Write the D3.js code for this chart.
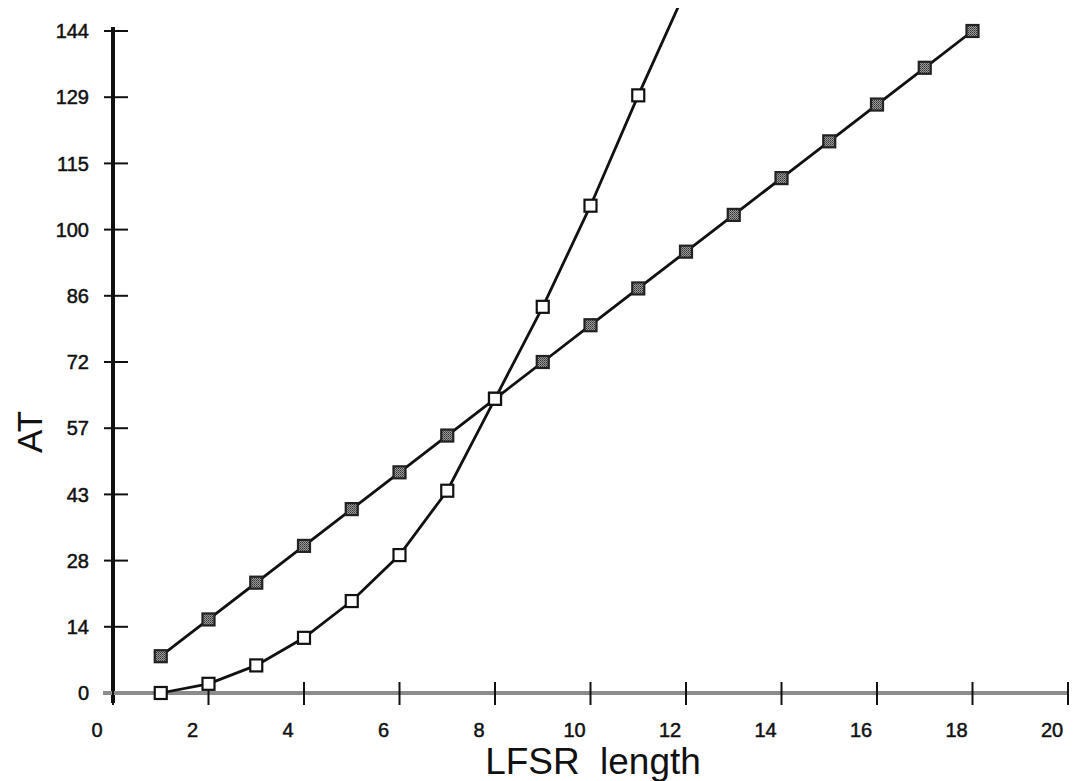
<!DOCTYPE html>
<html>
<head>
<meta charset="utf-8">
<script src="https://cdnjs.cloudflare.com/ajax/libs/d3/7.8.5/d3.min.js"></script>
<style>
  body { margin: 0; background: white; }
  text { font-family: "Liberation Sans", Arial, sans-serif; fill: #111; }
</style>
</head>
<body>
<div id="chart"></div>
<script>
// data
var lengths = [1, 2, 3, 4, 5, 6, 7, 8, 9, 10, 11, 12, 13, 14, 15, 16, 17, 18];
var filledValues = [8, 16, 24, 32, 40, 48, 56, 64, 72, 80, 88, 96, 104, 112, 120, 128, 136, 144];
var openLengths = [1, 2, 3, 4, 5, 6, 7, 8, 9, 10, 11, 12];
var openValues = [0, 2, 6, 12, 20, 30, 44, 64, 84, 106, 130, 153];
var xTicks = [0, 2, 4, 6, 8, 10, 12, 14, 16, 18, 20];
var yTicks = [0, 14.4, 28.8, 43.2, 57.6, 72, 86.4, 100.8, 115.2, 129.6, 144];
var yTickLabels = ["0", "14", "28", "43", "57", "72", "86", "100", "115", "129", "144"];

var visualize = function() {
  var width = 1073, height = 781;

  var svg = d3.select("#chart")
    .append("svg")
    .attr("width", width)
    .attr("height", height);

  var x = d3.scaleLinear()
    .domain([0, 20])
    .range([113, 1068]);

  var y = d3.scaleLinear()
    .domain([0, 144])
    .range([693, 31]);

  // dithered grey fill for the solid markers
  var defs = svg.append("defs");
  var pat = defs.append("pattern")
    .attr("id", "dots")
    .attr("width", 2)
    .attr("height", 2)
    .attr("patternUnits", "userSpaceOnUse");
  pat.append("rect").attr("width", 2).attr("height", 2).attr("fill", "#9a9a9a");
  pat.append("rect").attr("width", 1).attr("height", 1).attr("fill", "#333");
  pat.append("rect").attr("x", 1).attr("y", 1).attr("width", 1).attr("height", 1).attr("fill", "#555");

  defs.append("clipPath")
    .attr("id", "plotclip")
    .append("rect")
    .attr("x", 0)
    .attr("y", 8)
    .attr("width", width)
    .attr("height", height);

  //y axis
  svg.append("line")
    .attr("x1", x(0)).attr("x2", x(0))
    .attr("y1", 27).attr("y2", 703)
    .attr("stroke", "#111")
    .attr("stroke-width", 4);

  svg.selectAll(".ytick")
    .data(yTicks)
    .enter()
    .append("line")
    .attr("class", "ytick")
    .attr("x1", x(0) - 9)
    .attr("x2", x(0) + 15)
    .attr("y1", d => y(d))
    .attr("y2", d => y(d))
    .attr("stroke", "#111")
    .attr("stroke-width", 2);

  svg.selectAll(".ylabel")
    .data(yTicks)
    .enter()
    .append("text")
    .attr("class", "ylabel")
    .attr("x", 89)
    .attr("y", d => y(d))
    .attr("dy", "0.36em")
    .attr("text-anchor", "end")
    .style("font-size", "20px")
    .style("stroke", "#111")
    .style("stroke-width", 0.5)
    .text((d, i) => yTickLabels[i]);

  //x axis (grey, like the scan)
  svg.append("line")
    .attr("x1", x(0) - 10).attr("x2", x(20))
    .attr("y1", y(0)).attr("y2", y(0))
    .attr("stroke", "#8c8c8c")
    .attr("stroke-width", 4);

  svg.selectAll(".xtick")
    .data(xTicks)
    .enter()
    .append("line")
    .attr("class", "xtick")
    .attr("x1", d => x(d))
    .attr("x2", d => x(d))
    .attr("y1", y(0) - 11)
    .attr("y2", y(0) + 12)
    .attr("stroke", "#111")
    .attr("stroke-width", 2);

  svg.selectAll(".xlabel")
    .data(xTicks)
    .enter()
    .append("text")
    .attr("class", "xlabel")
    .attr("x", d => x(d))
    .attr("dx", -16)
    .attr("y", 737)
    .attr("text-anchor", "middle")
    .style("font-size", "20px")
    .style("stroke", "#111")
    .style("stroke-width", 0.5)
    .text(d => d);

  //titles
  svg.append("text")
    .attr("x", 593)
    .attr("y", 774)
    .attr("text-anchor", "middle")
    .style("font-size", "37px")
    .style("word-spacing", "10px")
    .text("LFSR length");

  svg.append("text")
    .attr("transform", "translate(42,432) rotate(-90)")
    .attr("text-anchor", "middle")
    .style("font-size", "35px")
    .text("AT");

  var line = d3.line()
    .x(d => x(d[0]))
    .y(d => y(d[1]));

  var plot = svg.append("g").attr("clip-path", "url(#plotclip)");

  //lines
  plot.append("path")
    .datum(lengths.map((d, i) => [d, filledValues[i]]))
    .attr("d", line)
    .attr("fill", "none")
    .attr("stroke", "#111")
    .attr("stroke-width", 2.8);

  plot.append("path")
    .datum(openLengths.map((d, i) => [d, openValues[i]]))
    .attr("d", line)
    .attr("fill", "none")
    .attr("stroke", "#111")
    .attr("stroke-width", 2.8);

  //filled markers
  plot.selectAll(".filled")
    .data(lengths.map((d, i) => [d, filledValues[i]]))
    .enter()
    .append("rect")
    .attr("class", "filled")
    .attr("x", d => x(d[0]) - 6)
    .attr("y", d => y(d[1]) - 6)
    .attr("width", 12)
    .attr("height", 12)
    .attr("fill", "url(#dots)")
    .attr("stroke", "#222")
    .attr("stroke-width", 2.2);

  //open markers
  plot.selectAll(".open")
    .data(openLengths.map((d, i) => [d, openValues[i]]))
    .enter()
    .append("rect")
    .attr("class", "open")
    .attr("x", d => x(d[0]) - 6)
    .attr("y", d => y(d[1]) - 6)
    .attr("width", 12)
    .attr("height", 12)
    .attr("fill", "white")
    .attr("stroke", "#111")
    .attr("stroke-width", 2.2);
};

visualize();
</script>
</body>
</html>
